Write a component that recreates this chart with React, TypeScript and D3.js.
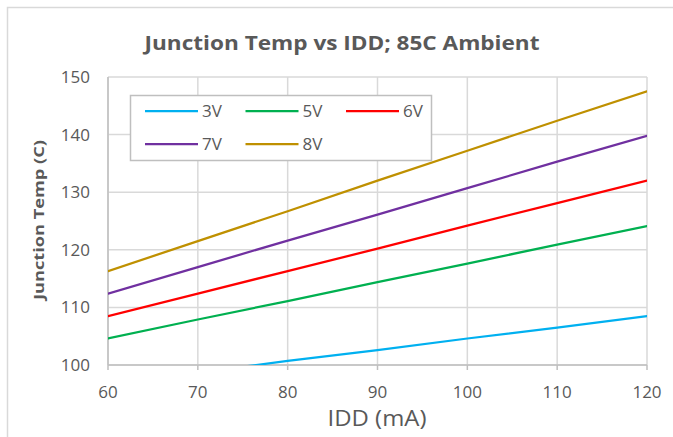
import { useEffect, useRef } from 'react';
import * as d3 from 'd3';

// IDD in mA
const IDD = [60, 70, 80, 90, 100, 110, 120];

// Junction temp (C) per supply voltage
const SERIES_NAMES = ["3V", "5V", "6V", "7V", "8V"];
const TEMP_3V = [96.8, 98.7, 100.7, 102.6, 104.6, 106.5, 108.5];
const TEMP_5V = [104.6, 107.9, 111.1, 114.4, 117.6, 120.9, 124.1];
const TEMP_6V = [108.5, 112.4, 116.3, 120.2, 124.2, 128.1, 132.0];
const TEMP_7V = [112.4, 117.0, 121.6, 126.1, 130.7, 135.3, 139.8];
const TEMP_8V = [116.3, 121.5, 126.7, 132.0, 137.2, 142.4, 147.5];

const X_TICKS = [60, 70, 80, 90, 100, 110, 120];
const Y_TICKS = [100, 110, 120, 130, 140, 150];

const COLORS = ["#00B0F0", "#00B050", "#FF0000", "#7030A0", "#BF9000"];
const GRID = "#D9D9D9";
const TEXT = "#595959";
const FONT = "'Open Sans', sans-serif";

export default function App() {
  const ref = useRef<SVGSVGElement>(null);

  useEffect(() => {
    document.documentElement.style.overflow = "hidden";
    document.body.style.overflow = "hidden";
    if (!ref.current) return;
    const svg = d3.select(ref.current);
    svg.selectAll("*").remove();

    const width = 673;
    const height = 437;
    const m = { left: 108, right: 647, top: 77, bottom: 365 };

    const x = d3.scaleLinear().domain([60, 120]).range([m.left, m.right]);
    const y = d3.scaleLinear().domain([100, 150]).range([m.bottom, m.top]);

    // chart frame (only top and left edges are inside the picture)
    svg.append("rect")
      .attr("x", 0).attr("y", 0)
      .attr("width", width).attr("height", height)
      .attr("fill", "white");
    svg.append("path")
      .attr("d", `M7.5,${height} V7.5 H${width}`)
      .attr("fill", "none")
      .attr("stroke", GRID)
      .attr("stroke-width", 1.5);

    // title
    svg.append("text")
      .attr("x", 342).attr("y", 50)
      .attr("text-anchor", "middle")
      .attr("font-family", FONT)
      .attr("font-weight", "bold")
      .attr("font-size", 20)
      .attr("fill", TEXT)
      .attr("textLength", 395)
      .attr("lengthAdjust", "spacingAndGlyphs")
      .text("Junction Temp vs IDD; 85C Ambient");

    // gridlines
    const grid = svg.append("g").attr("stroke", GRID).attr("stroke-width", 1.5);
    grid.selectAll("line.h")
      .data(Y_TICKS)
      .join("line")
      .attr("class", "h")
      .attr("x1", m.left).attr("x2", m.right)
      .attr("y1", (d) => y(d)).attr("y2", (d) => y(d));
    grid.selectAll("line.v")
      .data(X_TICKS)
      .join("line")
      .attr("class", "v")
      .attr("x1", (d) => x(d)).attr("x2", (d) => x(d))
      .attr("y1", m.top).attr("y2", m.bottom);

    // axes lines + ticks
    const axisColor = "#BFBFBF";
    svg.append("line")
      .attr("x1", m.left).attr("x2", m.right)
      .attr("y1", m.bottom).attr("y2", m.bottom)
      .attr("stroke", axisColor).attr("stroke-width", 1.5);
    svg.append("line")
      .attr("x1", m.left).attr("x2", m.left)
      .attr("y1", m.top).attr("y2", m.bottom)
      .attr("stroke", axisColor).attr("stroke-width", 1.5);
    svg.append("g")
      .selectAll("line")
      .data(X_TICKS)
      .join("line")
      .attr("x1", (d) => x(d)).attr("x2", (d) => x(d))
      .attr("y1", m.bottom).attr("y2", m.bottom + 5)
      .attr("stroke", axisColor).attr("stroke-width", 1.5);

    // tick labels
    svg.append("g")
      .selectAll("text")
      .data(X_TICKS)
      .join("text")
      .attr("x", (d) => x(d))
      .attr("y", 398)
      .attr("text-anchor", "middle")
      .attr("font-family", FONT)
      .attr("font-size", 17)
      .attr("fill", TEXT)
      .text((d) => d);
    svg.append("g")
      .selectAll("text")
      .data(Y_TICKS)
      .join("text")
      .attr("x", 90)
      .attr("y", (d) => y(d) + 6)
      .attr("text-anchor", "end")
      .attr("font-family", FONT)
      .attr("font-size", 17)
      .attr("fill", TEXT)
      .text((d) => d);

    // axis titles
    svg.append("text")
      .attr("x", 377).attr("y", 426)
      .attr("text-anchor", "middle")
      .attr("font-family", FONT)
      .attr("font-size", 21)
      .attr("fill", TEXT)
      .attr("textLength", 99)
      .attr("lengthAdjust", "spacingAndGlyphs")
      .text("IDD (mA)");
    svg.append("text")
      .attr("transform", "translate(44, 220) rotate(-90)")
      .attr("text-anchor", "middle")
      .attr("font-family", FONT)
      .attr("font-weight", "bold")
      .attr("font-size", 15)
      .attr("fill", TEXT)
      .attr("textLength", 160)
      .attr("lengthAdjust", "spacingAndGlyphs")
      .text("Junction Temp (C)");

    // series
    const seriesValues = [TEMP_3V, TEMP_5V, TEMP_6V, TEMP_7V, TEMP_8V];
    svg.append("clipPath").attr("id", "plot-clip")
      .append("rect")
      .attr("x", m.left).attr("y", m.top)
      .attr("width", m.right - m.left).attr("height", m.bottom - m.top);

    const line = d3.line<number>()
      .x((_, i) => x(IDD[i]))
      .y((d) => y(d));

    svg.append("g")
      .attr("clip-path", "url(#plot-clip)")
      .selectAll("path")
      .data(seriesValues)
      .join("path")
      .attr("d", (d) => line(d))
      .attr("fill", "none")
      .attr("stroke", (_, i) => COLORS[i])
      .attr("stroke-width", 2.25)
      .attr("stroke-linecap", "round");

    // legend
    const legend = svg.append("g");
    legend.append("rect")
      .attr("x", 130.5).attr("y", 95.5)
      .attr("width", 301).attr("height", 65)
      .attr("fill", "white")
      .attr("stroke", axisColor)
      .attr("stroke-width", 1.5);

    SERIES_NAMES.forEach((name, i) => {
      const col = i % 3;
      const row = Math.floor(i / 3);
      const lx = 145 + col * 100.5;
      const ly = 111 + row * 33;
      legend.append("line")
        .attr("x1", lx).attr("x2", lx + 53)
        .attr("y1", ly).attr("y2", ly)
        .attr("stroke", COLORS[i])
        .attr("stroke-width", 2.25);
      legend.append("text")
        .attr("x", lx + 57).attr("y", ly + 6)
        .attr("font-family", FONT)
        .attr("font-size", 17)
        .attr("fill", TEXT)
        .text(name);
    });
  }, []);

  return (
    <svg
      ref={ref}
      width={673}
      height={437}
      style={{ position: 'absolute', left: 0, top: 0, display: 'block' }}
    />
  );
}
